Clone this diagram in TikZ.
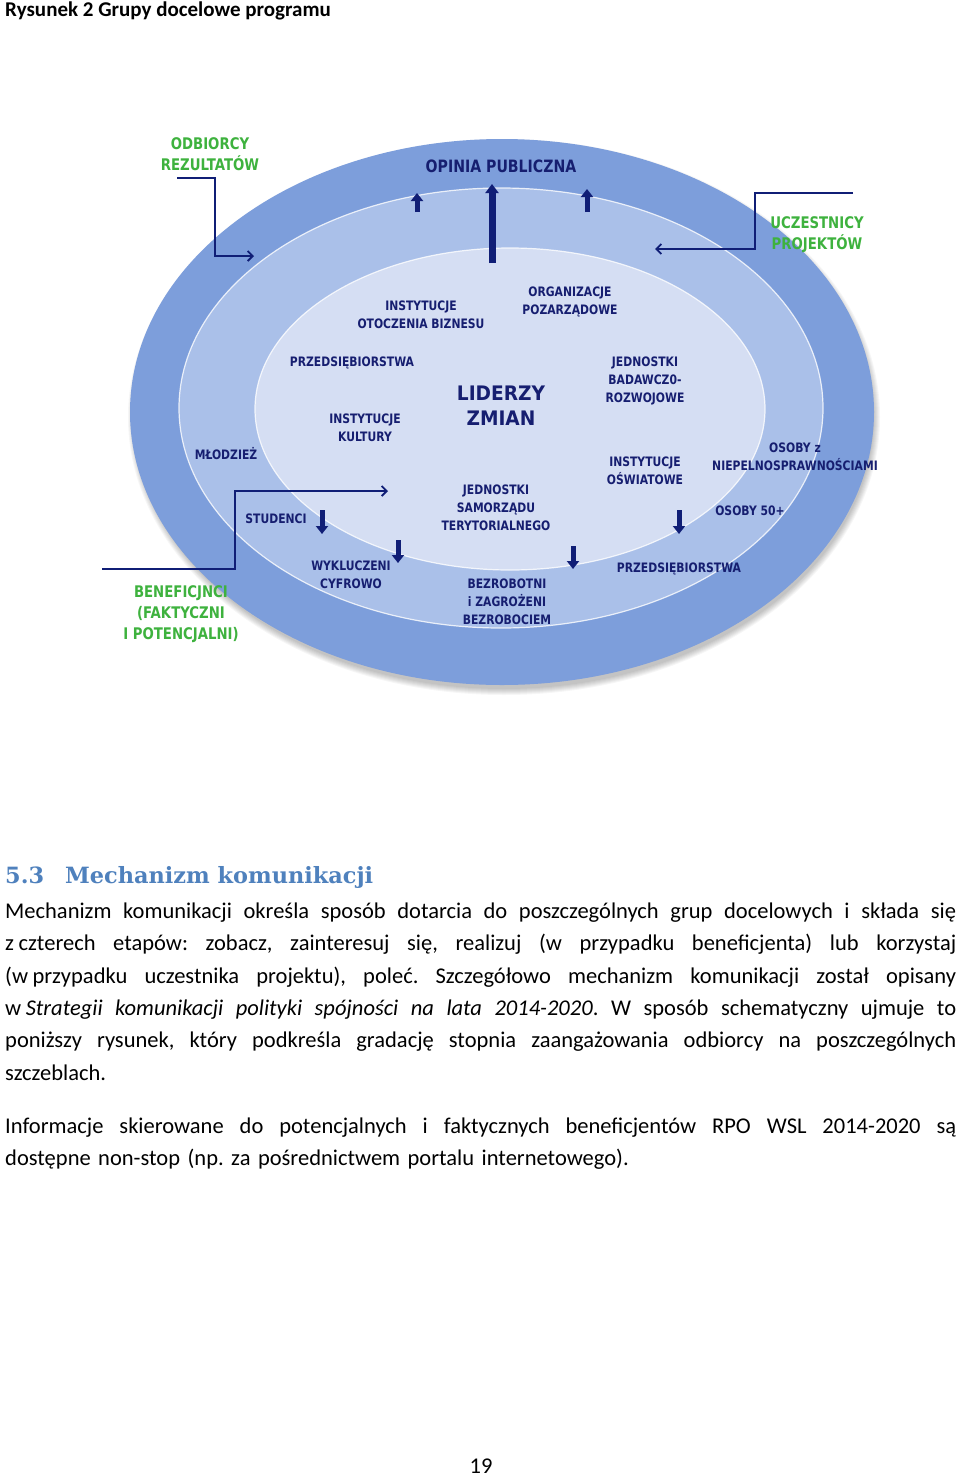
\documentclass[tikz,border=0pt]{standalone}
\usepackage{fontspec}
\setmainfont{Carlito}
\newfontfamily\diag[FakeStretch=0.83]{DejaVu Sans}
\newfontfamily\diagw[FakeStretch=0.93]{DejaVu Sans}
\newfontfamily\headfont{DejaVu Serif}
\usetikzlibrary{arrows.meta}
\definecolor{ringA}{RGB}{125,158,219}
\definecolor{ringB}{RGB}{170,192,233}
\definecolor{ringC}{RGB}{213,222,243}
\definecolor{navy}{RGB}{22,30,112}
\definecolor{arrowc}{RGB}{16,30,118}
\definecolor{grn}{RGB}{62,178,62}
\definecolor{headblue}{RGB}{79,129,189}
\newcommand{\Tt}{\rule{0pt}{1em}}
\newcommand{\Bb}{\rule[-0.25em]{0pt}{0.25em}}
\newcommand{\jline}[1]{\makebox[951pt][s]{\spaceskip=0.226em plus 1fil\relax #1}}
\tikzset{
  lbl/.style={inner sep=0pt, align=center, text=navy, font=\diag\bfseries\fontsize{13}{18}\selectfont},
  glbl/.style={inner sep=0pt, align=center, text=grn, font=\diag\bfseries\fontsize{16}{21}\selectfont},
  conn/.style={draw=arrowc, line width=1.8pt, -{Straight Barb[length=5pt,width=10pt]}},
  blk/.style={draw=arrowc, line width=5pt, -{Triangle[width=12pt,length=8pt]}},
  bigblk/.style={draw=arrowc, line width=7pt, -{Triangle[width=13pt,length=9pt]}},
  body/.style={inner sep=0pt, anchor=north west, text width=951pt, align=left, font=\frenchspacing\fontsize{22.5}{32.4}\selectfont}
}
\begin{document}
\begin{tikzpicture}[x=1pt,y=-1pt]
\useasboundingbox (0,0) rectangle (960,1476);
\fill[white] (0,0) rectangle (960,1476);

% shadow
\foreach \k in {1,...,7}{
  \fill[black, opacity=0.035] (504,417) ellipse [x radius={369+\k}, y radius={271+\k}];
}
% ellipses
\fill[ringA] (502,412) ellipse [x radius=372, y radius=273];
\fill[ringB] (501,408) ellipse [x radius=322, y radius=220];
\draw[white, line width=1.2pt, opacity=0.8] (501,408) ellipse [x radius=322, y radius=220];
\fill[ringC] (510,409) ellipse [x radius=255, y radius=161];
\draw[white, line width=1.2pt, opacity=0.8] (510,409) ellipse [x radius=255, y radius=161];

% connector coordinates
\coordinate (o1) at (177,178);
\coordinate (o2) at (215,178);
\coordinate (o3) at (215,256);
\coordinate (o4) at (254,256);
\coordinate (u1) at (853,193);
\coordinate (u2) at (755,193);
\coordinate (u3) at (755,249);
\coordinate (u4) at (655,249);
\coordinate (b1) at (102,569);
\coordinate (b2) at (235,569);
\coordinate (b3) at (235,491);
\coordinate (b4) at (388,491);
\draw[conn] (o1) -- (o2) -- (o3) -- (o4);
\draw[conn] (u1) -- (u2) -- (u3) -- (u4);
\draw[conn] (b1) -- (b2) -- (b3) -- (b4);

% block arrows
\coordinate (ua1) at (417,212); \coordinate (ua1t) at (417,193);
\coordinate (ua2) at (492,263); \coordinate (ua2t) at (492,184);
\coordinate (ua3) at (587,212); \coordinate (ua3t) at (587,189);
\coordinate (da1) at (322,510); \coordinate (da1t) at (322,534);
\coordinate (da2) at (398,540); \coordinate (da2t) at (398,563);
\coordinate (da3) at (573,546); \coordinate (da3t) at (573,569);
\coordinate (da4) at (679,510); \coordinate (da4t) at (679,534);
\draw[blk] (ua1) -- (ua1t);
\draw[bigblk] (ua2) -- (ua2t);
\draw[blk] (ua3) -- (ua3t);
\draw[blk] (da1) -- (da1t);
\draw[blk] (da2) -- (da2t);
\draw[blk] (da3) -- (da3t);
\draw[blk] (da4) -- (da4t);

% labels
\node[glbl] (odb) at (210,154) {\Tt ODBIORCY\\REZULTATÓW\Bb};
\node[lbl, font=\diag\bfseries\fontsize{17}{21}\selectfont] (opi) at (501,166) {\Tt OPINIA PUBLICZNA\Bb};
\node[glbl] (ucz) at (817,232.5) {\Tt UCZESTNICY\\PROJEKTÓW\Bb};
\node[lbl] (iob) at (421,315) {\Tt INSTYTUCJE\\OTOCZENIA BIZNESU\Bb};
\node[lbl] (org) at (570,300.5) {\Tt ORGANIZACJE\\POZARZĄDOWE\Bb};
\node[lbl] (prz1) at (352,362) {\Tt PRZEDSIĘBIORSTWA\Bb};
\node[lbl] (jbr) at (645,380) {\Tt JEDNOSTKI\\BADAWCZ0-\\ROZWOJOWE\Bb};
\node[lbl, font=\diagw\bfseries\fontsize{20}{25}\selectfont] (lid) at (501,405.5) {\Tt LIDERZY\\ZMIAN\Bb};
\node[lbl] (iku) at (365,428) {\Tt INSTYTUCJE\\KULTURY\Bb};
\node[lbl] (mlo) at (226,455) {\Tt MŁODZIEŻ\Bb};
\node[lbl] (osn) at (795,457) {\Tt OSOBY z\\NIEPELNOSPRAWNOŚCIAMI\Bb};
\node[lbl] (ios) at (645,471) {\Tt INSTYTUCJE\\OŚWIATOWE\Bb};
\node[lbl] (jst) at (496,508) {\Tt JEDNOSTKI\\SAMORZĄDU\\TERYTORIALNEGO\Bb};
\node[lbl] (stu) at (276,519) {\Tt STUDENCI\Bb};
\node[lbl] (o50) at (750,511) {\Tt OSOBY 50+\Bb};
\node[lbl] (wyk) at (351,575) {\Tt WYKLUCZENI\\CYFROWO\Bb};
\node[lbl] (prz2) at (679,568) {\Tt PRZEDSIĘBIORSTWA\Bb};
\node[lbl] (bez) at (507,602) {\Tt BEZROBOTNI\\i ZAGROŻENI\\BEZROBOCIEM\Bb};
\node[glbl] (ben) at (181,612) {\Tt BENEFICJNCI\\(FAKTYCZNI\\I POTENCJALNI)\Bb};

% page texts
\node[inner sep=0pt, anchor=base west, font=\bfseries\fontsize{21}{24}\selectfont] (cap) at (5,16) {Rysunek 2 Grupy docelowe programu};
\node[inner sep=0pt, anchor=base west, text=headblue, font=\headfont\bfseries\fontsize{22.4}{28}\selectfont] (secn) at (5,883) {5.3};
\node[inner sep=0pt, anchor=base west, text=headblue, font=\headfont\bfseries\fontsize{22.4}{28}\selectfont] (sect) at (65,883) {Mechanizm komunikacji};

\node[body] (p1) at (5,894) {\noindent
\jline{\rule{0pt}{24pt}Mechanizm komunikacji określa sposób dotarcia do poszczególnych grup docelowych i składa się}\\
\jline{z\hspace{0.2em}czterech etapów: zobacz, zainteresuj się, realizuj (w przypadku beneficjenta) lub korzystaj}\\
\jline{(w\hspace{0.2em}przypadku uczestnika projektu), poleć. Szczegółowo mechanizm komunikacji został opisany}\\
\jline{w\hspace{0.2em}\textit{Strategii komunikacji polityki spójności na lata 2014-2020}. W sposób schematyczny ujmuje to}\\
\jline{poniższy rysunek, który podkreśla gradację stopnia zaangażowania odbiorcy na poszczególnych}\\
szczeblach.};

\node[body] (p2) at (5,1109) {\noindent
\jline{\rule{0pt}{24pt}Informacje skierowane do potencjalnych i faktycznych beneficjentów RPO WSL 2014-2020 są}\\
dostępne non-stop (np. za pośrednictwem portalu internetowego).};

\node[inner sep=0pt, anchor=base, font=\fontsize{22.5}{27}\selectfont] (pg) at (481,1473) {19};
\end{tikzpicture}
\end{document}
